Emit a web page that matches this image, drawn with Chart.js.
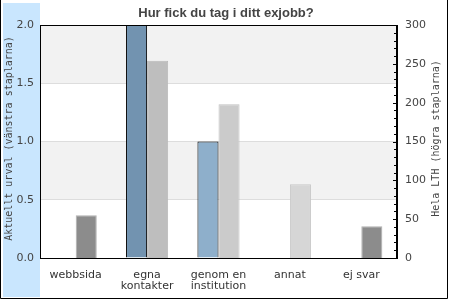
<!DOCTYPE html>
<html><head><meta charset="utf-8">
<script src="https://cdn.jsdelivr.net/npm/chart.js@4/dist/chart.umd.min.js"></script>
<style>html,body{margin:0;padding:0;background:#fff}#wrap{width:450px;height:300px}</style>
</head><body><div id="wrap"><canvas id="c" width="450" height="300"></canvas></div>
<script>
const categories = [['webbsida'], ['egna', 'kontakter'], ['genom en', 'institution'], ['annat'], ['ej svar']];
const currentSelection = [0, 2, 1, 0, 0];
const wholeLTH = [55, 254, 198, 95, 41];
const leftTicks = [0, 0.5, 1, 1.5, 2];
const rightTicks = [0, 50, 100, 150, 200, 250, 300];
const chartTitle = 'Hur fick du tag i ditt exjobb?';
const leftTitle = 'Aktuellt urval (vänstra staplarna)';
const rightTitle = 'Hela LTH (högra staplarna)';

const deco = {
  id: 'deco',
  beforeDraw(chart) {
    const ctx = chart.ctx, a = chart.chartArea, y = chart.scales.y;
    ctx.save();
    ctx.fillStyle = '#fff'; ctx.fillRect(0, 0, 450, 300);
    ctx.fillStyle = '#c9e6fe'; ctx.fillRect(3, 3, a.left - 3, 294);
    ctx.strokeStyle = '#000'; ctx.lineWidth = 1;
    ctx.beginPath();
    ctx.moveTo(0.5, 0); ctx.lineTo(0.5, 298.5); ctx.lineTo(447.5, 298.5); ctx.lineTo(447.5, 0);
    ctx.stroke();
    ctx.fillStyle = '#f2f2f2';
    for (let i = 0; i < leftTicks.length - 1; i++) {
      if (i % 2 === 1) {
        const t = y.getPixelForValue(leftTicks[i + 1]), b = y.getPixelForValue(leftTicks[i]);
        ctx.fillRect(a.left, t, a.right - a.left, b - t);
      }
    }
    ctx.restore();
  },
  afterDraw(chart) {
    const ctx = chart.ctx, a = chart.chartArea, y1 = chart.scales.y1;
    ctx.save();
    ctx.strokeStyle = '#000'; ctx.lineWidth = 1;
    ctx.strokeRect(Math.round(a.left) + 0.5, Math.round(a.top) + 0.5, Math.round(a.right - a.left) - 1, Math.round(a.bottom - a.top));
    ctx.beginPath();
    for (let v = 0; v <= 300; v += 10) {
      const p = Math.round(y1.getPixelForValue(v)) + 0.5;
      const len = v % 50 === 0 ? 4 : 3;
      ctx.moveTo(Math.round(a.right) - len, p); ctx.lineTo(Math.round(a.right), p);
    }
    ctx.stroke();
    ctx.fillStyle = '#444';
    ctx.font = 'bold 13px "Liberation Sans"';
    ctx.textAlign = 'center'; ctx.textBaseline = 'alphabetic';
    ctx.fillText(chartTitle, 226, 17);
    ctx.font = '10px "DejaVu Sans Mono"';
    ctx.textBaseline = 'middle';
    ctx.save(); ctx.translate(9, (a.top + a.bottom) / 2 - 3); ctx.rotate(-Math.PI / 2); ctx.fillText(leftTitle, 0, 0); ctx.restore();
    ctx.save(); ctx.translate(436, (a.top + a.bottom) / 2 - 3); ctx.rotate(-Math.PI / 2); ctx.fillText(rightTitle, 0, 0); ctx.restore();
    ctx.restore();
  }
};

new Chart(document.getElementById('c'), {
  type: 'bar',
  data: {
    labels: categories,
    datasets: [
      { label: 'Aktuellt urval', data: currentSelection, yAxisID: 'y',
        backgroundColor: ['#7293b0', '#7293b0', '#8eafcb', '#8eafcb', '#8eafcb'],
        borderColor: '#000', borderWidth: [0, 1, 1, 0, 0] },
      { label: 'Hela LTH', data: wholeLTH, yAxisID: 'y1',
        backgroundColor: ['#8c8c8c', '#bebebe', '#cbcbcb', '#d6d6d6', '#8c8c8c'],
        borderColor: ['#b0b0b0', '#b8b8b8', '#c2c2c2', '#c8c8c8', '#b0b0b0'], borderWidth: 1 }
    ]
  },
  options: {
    responsive: false, animation: false, devicePixelRatio: 1,
    layout: { padding: { left: 0, top: 25, right: 0, bottom: 0 } },
    plugins: { legend: { display: false }, tooltip: { enabled: false }, title: { display: false } },
    datasets: { bar: { categoryPercentage: 0.59, barPercentage: 1.0, borderSkipped: 'start' } },
    scales: {
      x: {
        grid: { display: false, drawTicks: false }, border: { display: true, color: '#000' },
        ticks: { color: '#333', font: { family: 'DejaVu Sans', size: 11, lineHeight: 1.05 }, padding: 11, maxRotation: 0, autoSkip: false },
        afterFit(s) { s.height = 42; }
      },
      y: {
        position: 'left', min: 0, max: 2,
        afterBuildTicks(s) { s.ticks = leftTicks.map(v => ({ value: v })); },
        grid: { color: '#dddddd', drawTicks: false }, border: { display: true, color: '#000' },
        ticks: { color: '#444', font: { family: 'DejaVu Sans', size: 11 }, padding: 6, callback: v => Number(v).toFixed(1) },
        afterFit(s) { s.width = 40; }
      },
      y1: {
        position: 'right', min: 0, max: 300,
        afterBuildTicks(s) { s.ticks = rightTicks.map(v => ({ value: v })); },
        grid: { display: false, drawTicks: false }, border: { display: true, color: '#000' },
        ticks: { color: '#444', font: { family: 'DejaVu Sans', size: 11 }, padding: 8 },
        afterFit(s) { s.width = 53; }
      }
    }
  },
  plugins: [deco]
});
</script></body></html>
